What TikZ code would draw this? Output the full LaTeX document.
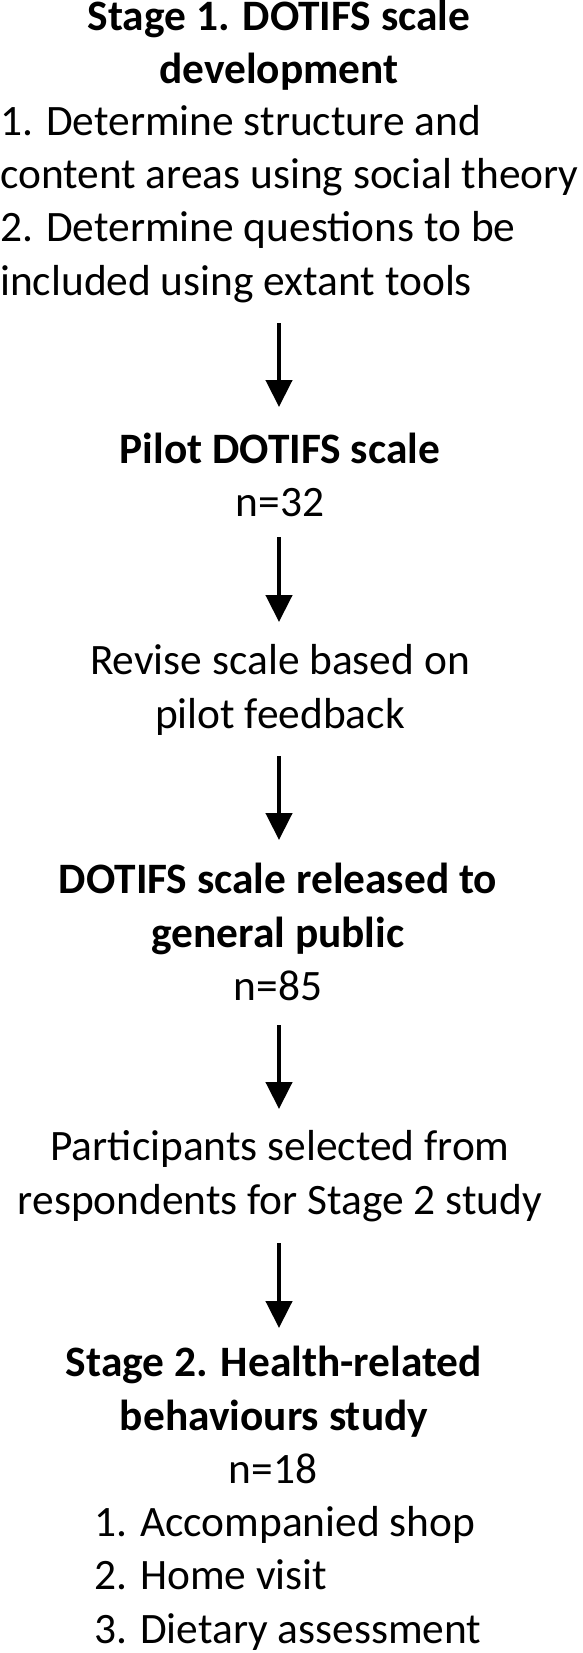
\documentclass[tikz,border=0pt]{standalone}
\usepackage{fontspec}
\setmainfont{Carlito}
\usetikzlibrary{arrows.meta}
\begin{document}
\begin{tikzpicture}[x=1pt,y=1pt,
  txt/.style={inner sep=0pt, font=\fontsize{43.4}{53.2}\selectfont},
  head/.style={txt, font=\fontsize{43.4}{53.2}\selectfont\bfseries, align=center, anchor=base},
  plain/.style={txt, align=center, anchor=base},
  listing/.style={txt, align=left, anchor=base west},
  flow/.style={line width=4.5pt, -{Triangle[width=26pt,length=27pt]}}]
\useasboundingbox (0,0) rectangle (583,-1653);

% anchor=base of a multi-line node = baseline of its last line
\node[head] (s1head) at (279,-84) {Stage 1. DOTIFS scale\\development};
\node[listing] (s1body) at (0,-295) {1. Determine structure and\\content areas using social theory\\2. Determine questions to be\\included using extant tools};

\node[head] (pilot) at (280,-463) {Pilot DOTIFS scale};
\node[plain] (pilotn) at (280,-516) {n=32};

\node[plain] (revise) at (280,-728) {Revise scale based on\\pilot feedback};

\node[head] (release) at (278,-947) {DOTIFS scale released to\\general public};
\node[plain] (releasen) at (278,-1000) {n=85};

\node[plain] (select) at (280,-1214) {Participants selected from\\respondents for Stage 2 study};

\node[head] (s2head) at (274,-1430) {Stage 2. Health-related\\behaviours study};
\node[plain] (s2n) at (273,-1483) {n=18};
\node[listing] (s2list) at (94,-1643) {1. Accompanied shop\\2. Home visit\\3. Dietary assessment};

\coordinate (a1s) at (279,-323); \coordinate (a1e) at (279,-407);
\coordinate (a2s) at (279,-537); \coordinate (a2e) at (279,-622);
\coordinate (a3s) at (279,-756); \coordinate (a3e) at (279,-840);
\coordinate (a4s) at (279,-1025); \coordinate (a4e) at (279,-1109);
\coordinate (a5s) at (279,-1243); \coordinate (a5e) at (279,-1328);

\draw[flow] (a1s) -- (a1e);
\draw[flow] (a2s) -- (a2e);
\draw[flow] (a3s) -- (a3e);
\draw[flow] (a4s) -- (a4e);
\draw[flow] (a5s) -- (a5e);
\end{tikzpicture}
\end{document}
